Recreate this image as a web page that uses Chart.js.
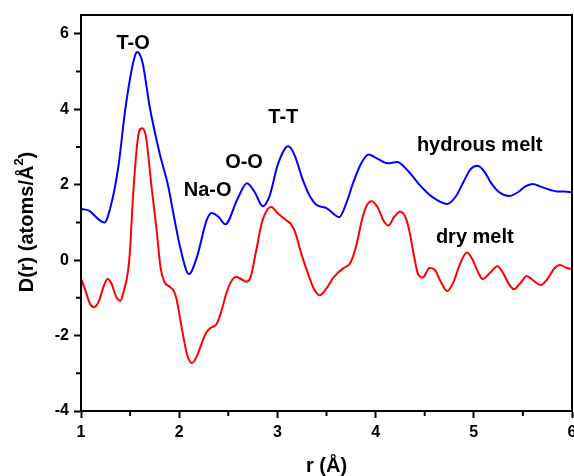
<!DOCTYPE html>
<html>
<head>
<meta charset="utf-8">
<script src="https://cdn.jsdelivr.net/npm/chart.js@4/dist/chart.umd.min.js"></script>
<style>
  html, body { margin: 0; padding: 0; background: #ffffff; }
  #wrap { width: 574px; height: 476px; position: relative; }
</style>
</head>
<body>
<div id="wrap"><canvas id="c" width="574" height="476"></canvas></div>
<script>
// ---- data ----
const hydrousR = [1.00,1.05,1.09,1.17,1.24,1.30,1.38,1.45,1.52,1.55,1.57,1.60,1.63,1.70,1.80,1.89,1.94,2.01,2.10,2.18,2.28,2.33,2.40,2.47,2.59,2.69,2.77,2.85,2.92,3.00,3.08,3.11,3.14,3.18,3.26,3.33,3.40,3.50,3.63,3.70,3.77,3.85,3.93,4.00,4.12,4.22,4.30,4.40,4.45,4.58,4.73,4.82,4.90,4.97,5.04,5.12,5.17,5.26,5.36,5.45,5.52,5.60,5.68,5.78,5.85,5.92,6.00];
const hydrousD = [1.35,1.34,1.30,1.10,1.00,1.40,2.47,3.98,5.10,5.42,5.52,5.45,5.20,4.06,2.84,1.94,1.25,0.34,-0.37,0.08,1.06,1.25,1.15,0.95,1.60,2.04,1.80,1.43,1.70,2.50,2.97,3.02,2.96,2.75,2.12,1.70,1.46,1.38,1.14,1.50,2.04,2.55,2.80,2.72,2.57,2.60,2.45,2.15,1.99,1.67,1.49,1.70,2.10,2.42,2.50,2.30,2.07,1.80,1.70,1.80,1.95,2.02,1.95,1.86,1.82,1.82,1.80];

const dryR = [1.00,1.05,1.09,1.13,1.18,1.23,1.27,1.31,1.36,1.40,1.43,1.48,1.50,1.53,1.58,1.62,1.66,1.72,1.77,1.81,1.85,1.90,1.94,1.97,2.03,2.08,2.13,2.18,2.23,2.28,2.33,2.38,2.43,2.48,2.54,2.58,2.63,2.68,2.72,2.78,2.84,2.90,2.94,3.00,3.09,3.14,3.18,3.24,3.30,3.37,3.43,3.50,3.56,3.61,3.68,3.74,3.80,3.86,3.91,3.96,4.02,4.08,4.13,4.19,4.25,4.31,4.35,4.38,4.43,4.48,4.55,4.60,4.66,4.73,4.79,4.86,4.93,4.98,5.04,5.09,5.16,5.24,5.30,5.36,5.41,5.47,5.54,5.61,5.68,5.75,5.82,5.88,5.94,6.00];
const dryD = [-0.48,-0.85,-1.15,-1.25,-1.10,-0.70,-0.50,-0.62,-0.98,-1.08,-0.88,-0.27,0.30,1.70,3.25,3.50,3.30,1.90,0.80,-0.20,-0.58,-0.70,-0.80,-1.00,-1.86,-2.50,-2.73,-2.55,-2.20,-1.90,-1.78,-1.70,-1.35,-0.88,-0.52,-0.45,-0.50,-0.57,-0.50,0.20,0.98,1.35,1.41,1.25,1.06,0.95,0.75,0.20,-0.27,-0.75,-0.93,-0.75,-0.50,-0.35,-0.20,-0.08,0.35,1.06,1.45,1.56,1.40,1.05,0.92,1.15,1.28,1.10,0.70,0.27,-0.35,-0.46,-0.21,-0.25,-0.55,-0.82,-0.60,-0.10,0.20,0.05,-0.30,-0.50,-0.35,-0.16,-0.35,-0.65,-0.77,-0.62,-0.42,-0.55,-0.66,-0.50,-0.22,-0.13,-0.20,-0.24];

const seriesNames = ['hydrous melt', 'dry melt'];
const xTickValues = [1, 2, 3, 4, 5, 6];
const yTickValues = [-4, -2, 0, 2, 4, 6];
const yTitleMain = 'D(r) (atoms/Å';
const yTitleSup = '2';
const yTitleEnd = ')';

// annotation texts with their anchor in data units
const noteTexts = ['T-O', 'Na-O', 'O-O', 'T-T', 'hydrous melt', 'dry melt'];
const noteR     = [1.53, 2.29, 2.66, 3.06, 5.06, 5.01];
const noteD     = [5.75, 1.86, 2.60, 3.77, 3.05, 0.61];

function pts(xs, ys) { return xs.map((x, i) => ({ x: x, y: ys[i] })); }

const FONT = '"Liberation Sans", Arial, sans-serif';

const framePlugin = {
  id: 'frame',
  afterDraw(chart) {
    const { ctx, chartArea: a, scales } = chart;
    ctx.save();
    ctx.strokeStyle = '#000';
    ctx.lineWidth = 2;
    ctx.strokeRect(a.left, a.top, a.right - a.left, a.bottom - a.top);
    // minor ticks
    ctx.beginPath();
    for (let v = 1.5; v < 6; v += 1) {
      const px = scales.x.getPixelForValue(v);
      ctx.moveTo(px, a.bottom); ctx.lineTo(px, a.bottom + 5);
    }
    for (let v = -3; v < 6.5; v += 2) {
      const py = scales.y.getPixelForValue(v);
      ctx.moveTo(a.left, py); ctx.lineTo(a.left - 5, py);
    }
    ctx.stroke();
    // annotations
    ctx.fillStyle = '#000';
    ctx.font = 'bold 20px ' + FONT;
    ctx.textAlign = 'center';
    ctx.textBaseline = 'middle';
    noteTexts.forEach((t, i) => {
      ctx.fillText(t, scales.x.getPixelForValue(noteR[i]), scales.y.getPixelForValue(noteD[i]));
    });
    // y-axis title with superscript, rotated
    const mainFont = 'bold 20px ' + FONT;
    const supFont = 'bold 13px ' + FONT;
    ctx.font = mainFont; const w1 = ctx.measureText(yTitleMain).width; const w3 = ctx.measureText(yTitleEnd).width;
    ctx.font = supFont; const w2 = ctx.measureText(yTitleSup).width;
    const total = w1 + w2 + w3;
    ctx.translate(27, 222);
    ctx.rotate(-Math.PI / 2);
    ctx.textAlign = 'left';
    ctx.textBaseline = 'middle';
    let x0 = -total / 2;
    ctx.font = mainFont; ctx.fillText(yTitleMain, x0, 0); x0 += w1;
    ctx.font = supFont; ctx.fillText(yTitleSup, x0, -8); x0 += w2;
    ctx.font = mainFont; ctx.fillText(yTitleEnd, x0, 0);
    ctx.restore();
  }
};

new Chart(document.getElementById('c'), {
  type: 'line',
  data: {
    datasets: [
      { label: seriesNames[0], data: pts(hydrousR, hydrousD), borderColor: '#0000ff', borderWidth: 2, pointRadius: 0, cubicInterpolationMode: 'monotone', fill: false },
      { label: seriesNames[1], data: pts(dryR, dryD), borderColor: '#ff0000', borderWidth: 2, pointRadius: 0, cubicInterpolationMode: 'monotone', fill: false }
    ]
  },
  options: {
    responsive: false,
    animation: false,
    devicePixelRatio: 1,
    layout: { padding: { top: 15, right: 2, left: 0, bottom: 0 } },
    plugins: { legend: { display: false }, tooltip: { enabled: false } },
    scales: {
      x: {
        type: 'linear', min: 1, max: 6,
        afterFit(s) { s.height = 65; s.paddingLeft = 0; s.paddingRight = 0; },
        afterBuildTicks(s) { s.ticks = xTickValues.map(v => ({ value: v })); },
        border: { display: true, color: '#000', width: 2 },
        grid: { drawOnChartArea: false, drawTicks: true, tickLength: 7, tickWidth: 2, tickColor: '#000' },
        ticks: { color: '#000', font: { family: FONT, size: 16, weight: 'bold' }, padding: 5, maxRotation: 0 },
        title: { display: true, text: 'r (Å)', color: '#000', font: { family: FONT, size: 20, weight: 'bold', lineHeight: 1 }, padding: { top: 0, bottom: 0 } }
      },
      y: {
        type: 'linear', min: -4, max: 6.5,
        afterFit(s) { s.width = 81; s.paddingTop = 0; s.paddingBottom = 0; },
        afterBuildTicks(s) { s.ticks = yTickValues.map(v => ({ value: v })); },
        border: { display: true, color: '#000', width: 2 },
        grid: { drawOnChartArea: false, drawTicks: true, tickLength: 7, tickWidth: 2, tickColor: '#000' },
        ticks: { color: '#000', font: { family: FONT, size: 16, weight: 'bold' }, padding: 5 },
        title: { display: false }
      }
    }
  },
  plugins: [framePlugin]
});
</script>
</body>
</html>
